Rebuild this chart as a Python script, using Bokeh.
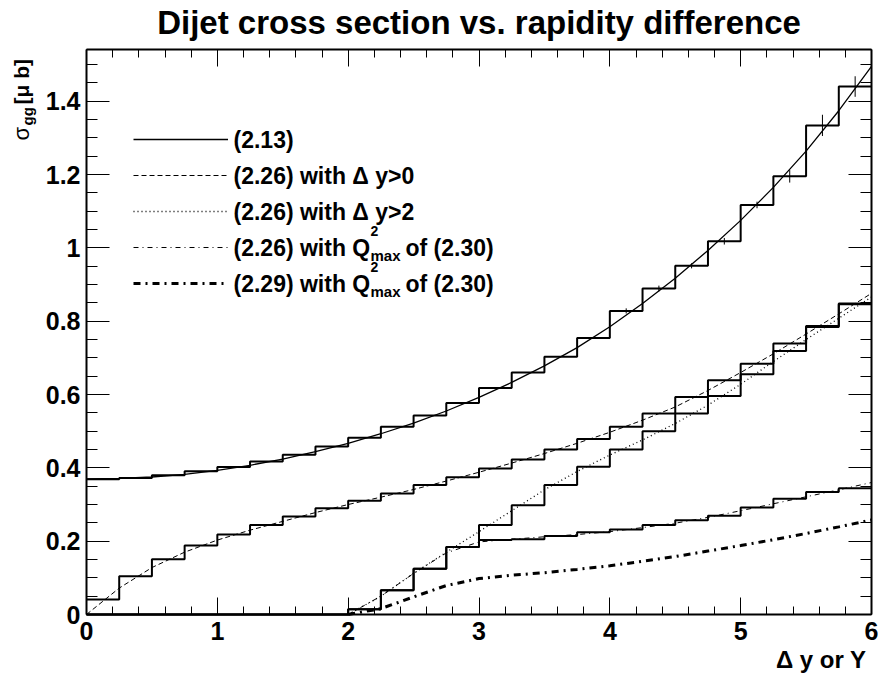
from math import pi
from bokeh.plotting import figure
from bokeh.models import Range1d, FixedTicker, LinearAxis, Label, Legend, LegendItem
from bokeh.core.properties import value
from bokeh.embed import file_html
from bokeh.resources import INLINE

# ---------------- data ----------------
bin_edges = [0.0, 0.25, 0.5, 0.75, 1.0, 1.25, 1.5, 1.75, 2.0, 2.25, 2.5, 2.75,
             3.0, 3.25, 3.5, 3.75, 4.0, 4.25, 4.5, 4.75, 5.0, 5.25, 5.5, 5.75, 6.0]

hist_213 = [0.369, 0.372, 0.380, 0.391, 0.402, 0.417, 0.436, 0.458, 0.482, 0.512,
            0.543, 0.577, 0.618, 0.660, 0.703, 0.754, 0.828, 0.889, 0.951, 1.018,
            1.117, 1.195, 1.334, 1.440]
hist_213_err = [0, 0, 0, 0, 0, 0, 0, 0, 0, 0, 0, 0, 0, 0, 0, 0,
                0.007, 0.008, 0.007, 0.009, 0.009, 0.017, 0.029, 0.028]
hist_226_dy0 = [0.041, 0.104, 0.151, 0.188, 0.218, 0.244, 0.267, 0.290, 0.310, 0.330,
                0.353, 0.374, 0.398, 0.423, 0.450, 0.479, 0.512, 0.548, 0.593, 0.639,
                0.684, 0.739, 0.787, 0.848]
hist_226_dy2 = [0, 0, 0, 0, 0, 0, 0, 0, 0.014, 0.066, 0.125, 0.184, 0.244, 0.298,
                0.353, 0.403, 0.450, 0.500, 0.548, 0.596, 0.655, 0.719, 0.784, 0.846]
hist_226_q = [0, 0, 0, 0, 0, 0, 0, 0, 0.014, 0.066, 0.125, 0.184, 0.203, 0.205,
              0.214, 0.224, 0.232, 0.244, 0.257, 0.269, 0.292, 0.316, 0.334, 0.344]

curve_x = [0.0, 0.25, 0.5, 0.75, 1.0, 1.25, 1.5, 1.75, 2.0, 2.25, 2.5, 2.75,
           3.0, 3.25, 3.5, 3.75, 4.0, 4.25, 4.5, 4.75, 5.0, 5.25, 5.5, 5.75, 6.0]
curve_213 = [0.370, 0.371, 0.375, 0.382, 0.393, 0.407, 0.424, 0.444, 0.467, 0.493,
             0.522, 0.555, 0.592, 0.633, 0.678, 0.728, 0.785, 0.848, 0.917, 0.993,
             1.075, 1.165, 1.264, 1.374, 1.495]
curve_226_dy0 = [0.000, 0.072, 0.128, 0.170, 0.203, 0.230, 0.254, 0.278, 0.300, 0.320,
                 0.341, 0.364, 0.388, 0.413, 0.439, 0.467, 0.497, 0.530, 0.566, 0.611,
                 0.660, 0.711, 0.765, 0.820, 0.876]

curve_x2 = [2.0, 2.25, 2.5, 2.75, 3.0, 3.25, 3.5, 3.75, 4.0, 4.25, 4.5, 4.75,
            5.0, 5.25, 5.5, 5.75, 6.0]
curve_226_dy2 = [0.000, 0.050, 0.112, 0.170, 0.226, 0.283, 0.340, 0.390, 0.435, 0.476,
                 0.521, 0.571, 0.628, 0.690, 0.750, 0.808, 0.866]
curve_226_q = [0.000, 0.050, 0.112, 0.168, 0.198, 0.205, 0.212, 0.218, 0.226, 0.237,
               0.249, 0.265, 0.283, 0.302, 0.321, 0.340, 0.360]
curve_229_q = [0.000, 0.016, 0.048, 0.079, 0.098, 0.107, 0.114, 0.123, 0.133, 0.145,
               0.158, 0.173, 0.188, 0.204, 0.221, 0.239, 0.258]

x_ticks = [0, 1, 2, 3, 4, 5, 6]
x_tick_labels = ["0", "1", "2", "3", "4", "5", "6"]
y_ticks = [0, 0.2, 0.4, 0.6, 0.8, 1, 1.2, 1.4]
y_tick_labels = ["0", "0.2", "0.4", "0.6", "0.8", "1", "1.2", "1.4"]

title_text = "Dijet cross section vs. rapidity difference"
x_title = "\u0394 y or Y"

# ---------------- layout (pixel positions of the reference) ----------------
XMIN, XMAX, YMIN, YMAX = 0.0, 6.0, 0.0, 1.541
FL, FR, FT, FB = 86, 871, 49, 614          # axis box edges in page pixels
W, H = 878, 675                            # canvas size
SX = (FR - FL) / (XMAX - XMIN)
SY = (FB - FT) / (YMAX - YMIN)


def dx(px):
    return XMIN + (px - FL) / SX


def dy(py):
    return YMIN + (FB - py) / SY


FONT = "Liberation Sans"

p = figure(width=W, height=H,
           x_range=Range1d(dx(0), dx(W)), y_range=Range1d(dy(H), dy(0)),
           output_backend="svg", toolbar_location=None, title=None,
           x_axis_location=None, y_axis_location=None,
           min_border=0, min_border_left=0, min_border_right=0,
           min_border_top=0, min_border_bottom=0)
p.background_fill_color = "white"
p.border_fill_color = "white"
p.outline_line_color = None
p.grid.grid_line_color = None

x_minor = [round(0.2 * i, 3) for i in range(31)]
y_minor = [round(0.05 * i, 3) for i in range(31)]


def make_axis(loc, bounds, ticks, minor, labels, tin, tmin, show):
    ax = LinearAxis(ticker=FixedTicker(ticks=ticks, minor_ticks=minor),
                    fixed_location=loc, bounds=bounds)
    ax.major_tick_in = tin
    ax.major_tick_out = 0
    ax.minor_tick_in = tmin
    ax.minor_tick_out = 0
    ax.axis_line_width = 2
    ax.axis_line_color = "black"
    ax.major_tick_line_width = 1
    ax.minor_tick_line_width = 1
    ax.major_tick_line_color = "black"
    ax.minor_tick_line_color = "black"
    if show:
        ax.major_label_overrides = {t: l for t, l in zip(ticks, labels)}
        ax.major_label_text_font = FONT
        ax.major_label_text_font_style = "bold"
        ax.major_label_text_font_size = "25px"
        ax.major_label_text_color = "black"
    else:
        ax.major_label_overrides = {t: "" for t in ticks}
        ax.major_label_standoff = 0
    return ax


xb = make_axis(YMIN, (XMIN, XMAX), x_ticks, x_minor, x_tick_labels, 17, 8, True)
xb.major_label_standoff = 7
xt = make_axis(YMAX, (XMIN, XMAX), x_ticks, x_minor, x_tick_labels, 17, 8, False)
yl = make_axis(XMIN, (YMIN, YMAX), y_ticks, y_minor, y_tick_labels, 23, 11, True)
yl.major_label_standoff = 6
yr = make_axis(XMAX, (YMIN, YMAX), y_ticks, y_minor, y_tick_labels, 23, 11, False)
p.add_layout(xb, "below")
p.add_layout(xt, "above")
p.add_layout(yl, "left")
p.add_layout(yr, "right")

# ---------------- histograms ----------------
for h in (hist_213, hist_226_dy0, hist_226_dy2, hist_226_q):
    p.step(x=bin_edges, y=h + [h[-1]], mode="after", line_color="black", line_width=2)

centers = [(a + b) / 2 for a, b in zip(bin_edges[:-1], bin_edges[1:])]
eb = [(c, v, e) for c, v, e in zip(centers, hist_213, hist_213_err) if e > 0]
p.segment(x0=[c for c, v, e in eb], x1=[c for c, v, e in eb],
          y0=[v - e for c, v, e in eb], y1=[v + e for c, v, e in eb],
          line_color="black", line_width=1)

# ---------------- curves ----------------
r1 = p.line(curve_x, curve_213, line_color="black", line_width=1.3)
r2 = p.line(curve_x, curve_226_dy0, line_color="black", line_width=1, line_dash="5 3")
r3 = p.line(curve_x2, curve_226_dy2, line_color="black", line_width=1.3, line_dash="1 3")
r4 = p.line(curve_x2, curve_226_q, line_color="black", line_width=1, line_dash="5 4 1 4")
r5 = p.line(curve_x2, curve_229_q, line_color="black", line_width=3, line_dash="7 5 2 5")

# ---------------- legend (sample lines) ----------------
rows = [139, 175, 211, 247, 283]
legend = Legend(items=[LegendItem(label=value(" "), renderers=[r]) for r in (r1, r2, r3, r4, r5)],
                location=(133, H - (rows[-1] + 10)),
                glyph_width=95, glyph_height=20, label_height=20, label_width=0,
                spacing=16, padding=0, margin=0, label_standoff=0,
                label_text_font_size="1px", border_line_color=None,
                background_fill_alpha=0)
p.add_layout(legend)

TX = 233
SHIFT = 0.33   # compensation of the label baseline placement, in em


def add_text(text, px, py, size, style="bold", align="left", angle=0.0):
    if angle == 0.0:
        py = py - SHIFT * size
    else:
        px = px - SHIFT * size
    p.add_layout(Label(x=dx(px), y=dy(py), text=text, text_font=FONT,
                       text_font_size=f"{size}px", text_font_style=style,
                       text_align=align, text_baseline="alphabetic", angle=angle,
                       text_color="black"))


add_text("(2.13)", TX, rows[0] + 8, 23)
add_text("(2.26) with \u0394 y>0", TX, rows[1] + 8, 23)
add_text("(2.26) with \u0394 y>2", TX, rows[2] + 8, 23)
for r, lab in ((rows[3], "(2.26) with Q"), (rows[4], "(2.29) with Q")):
    add_text(lab, TX, r + 8, 23)
    add_text("2", 370, r - 12, 14)
    add_text("max", 370, r + 13, 15)
    add_text("of (2.30)", 405, r + 8, 23)

# ---------------- titles ----------------
add_text(title_text, (FL + FR) / 2, 33, 33, align="center")
add_text(x_title, 866, 667, 24, align="right")
add_text("\u03c3", 28, 140, 22, style="normal", angle=pi / 2)
add_text("gg", 32, 125, 15, angle=pi / 2)
add_text("[\u03bc b]", 28, 104, 21, angle=pi / 2)

open("out.html", "w").write(file_html(p, INLINE))
